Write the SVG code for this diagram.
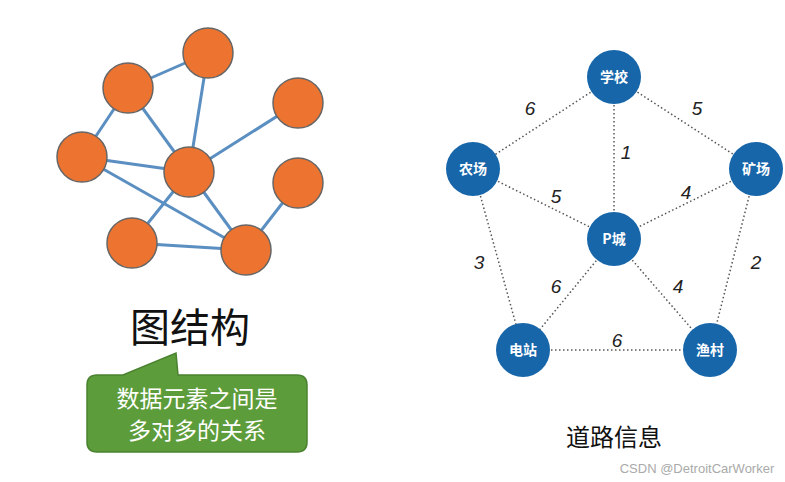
<svg xmlns="http://www.w3.org/2000/svg" width="785" height="482" viewBox="0 0 785 482">
<style>
.on{fill:#ed7330;stroke:#666;stroke-width:1.5}
.le{stroke:#5b8fc2;stroke-width:3}
.bn{fill:#1766aa}
.bt{fill:#fff;font-family:"Noto Sans CJK SC",sans-serif;font-size:14px;font-weight:bold;text-anchor:middle}
.de{stroke:#555;stroke-width:1.5;stroke-dasharray:1.5 2.5}
.num{font-family:"Liberation Sans",sans-serif;font-style:italic;font-size:19px;fill:#222;text-anchor:middle}
</style>
<rect width="785" height="482" fill="#fff"/>
<g id="left-edges" class="le">
<line x1="128" y1="88" x2="208" y2="53"/><line x1="128" y1="88" x2="82" y2="157"/>
<line x1="128" y1="88" x2="189" y2="172"/><line x1="208" y1="53" x2="189" y2="172"/>
<line x1="189" y1="172" x2="298" y2="103"/><line x1="82" y1="157" x2="189" y2="172"/>
<line x1="82" y1="157" x2="246" y2="250"/><line x1="189" y1="172" x2="132" y2="243"/>
<line x1="189" y1="172" x2="246" y2="250"/><line x1="246" y1="250" x2="298" y2="183"/>
<line x1="132" y1="243" x2="246" y2="250"/>
</g>
<g id="left-nodes">
<circle id="n1" class="on" cx="208" cy="53" r="25"/><circle id="n2" class="on" cx="128" cy="88" r="25"/>
<circle id="n3" class="on" cx="298" cy="103" r="25"/><circle id="n4" class="on" cx="82" cy="157" r="25"/>
<circle id="n5" class="on" cx="189" cy="172" r="25"/><circle id="n6" class="on" cx="298" cy="183" r="25"/>
<circle id="n7" class="on" cx="132" cy="243" r="25"/><circle id="n8" class="on" cx="246" cy="250" r="25"/>
</g>
<text x="190" y="342" font-family="Noto Sans CJK SC,sans-serif" font-size="40" text-anchor="middle" fill="#111">图结构</text>
<g id="callout">
<path d="M97,375 L123,375 L176,353 L178,375 L297,375 Q307,375 307,385 L307,442 Q307,452 297,452 L97,452 Q87,452 87,442 L87,385 Q87,375 97,375 Z" fill="#5d9c3a" stroke="#4a8230" stroke-width="1.5"/>
<text x="197" y="407" font-family="Noto Sans CJK SC,sans-serif" font-size="23" fill="#fff" text-anchor="middle">数据元素之间是</text>
<text x="197" y="439" font-family="Noto Sans CJK SC,sans-serif" font-size="23" fill="#fff" text-anchor="middle">多对多的关系</text>
</g>
<g id="connectors" class="de">
<line x1="614" y1="77" x2="473" y2="169"/><line x1="614" y1="77" x2="756" y2="169"/>
<line x1="614" y1="77" x2="614" y2="239"/><line x1="473" y1="169" x2="614" y2="239"/>
<line x1="756" y1="169" x2="614" y2="239"/><line x1="473" y1="169" x2="523" y2="350"/>
<line x1="756" y1="169" x2="710" y2="350"/><line x1="614" y1="239" x2="523" y2="350"/>
<line x1="614" y1="239" x2="710" y2="350"/><line x1="523" y1="350" x2="710" y2="350"/>
</g>
<g id="labels">
<text class="num" x="530" y="115">6</text><text class="num" x="697" y="115">5</text>
<text class="num" x="626" y="159">1</text><text class="num" x="556" y="203">5</text>
<text class="num" x="686" y="199">4</text><text class="num" x="479" y="269">3</text>
<text class="num" x="756" y="269">2</text><text class="num" x="556" y="293">6</text>
<text class="num" x="678" y="293">4</text><text class="num" x="617" y="347">6</text>
</g>
<g id="school"><circle class="bn" cx="614" cy="77" r="27"/><text class="bt" x="614" y="82">学校</text></g>
<g id="farm"><circle class="bn" cx="473" cy="169" r="27"/><text class="bt" x="473" y="174">农场</text></g>
<g id="mine"><circle class="bn" cx="756" cy="169" r="27"/><text class="bt" x="756" y="174">矿场</text></g>
<g id="pcity"><circle class="bn" cx="614" cy="239" r="27"/><text class="bt" x="614" y="244">P城</text></g>
<g id="station"><circle class="bn" cx="523" cy="350" r="27"/><text class="bt" x="523" y="355">电站</text></g>
<g id="village"><circle class="bn" cx="710" cy="350" r="27"/><text class="bt" x="710" y="355">渔村</text></g>
<text x="614" y="446" font-family="Noto Sans CJK SC,sans-serif" font-size="24" text-anchor="middle" fill="#111">道路信息</text>
<text x="697" y="473" font-family="Liberation Sans,sans-serif" font-size="13" text-anchor="middle" fill="#aaa">CSDN @DetroitCarWorker</text>
</svg>
